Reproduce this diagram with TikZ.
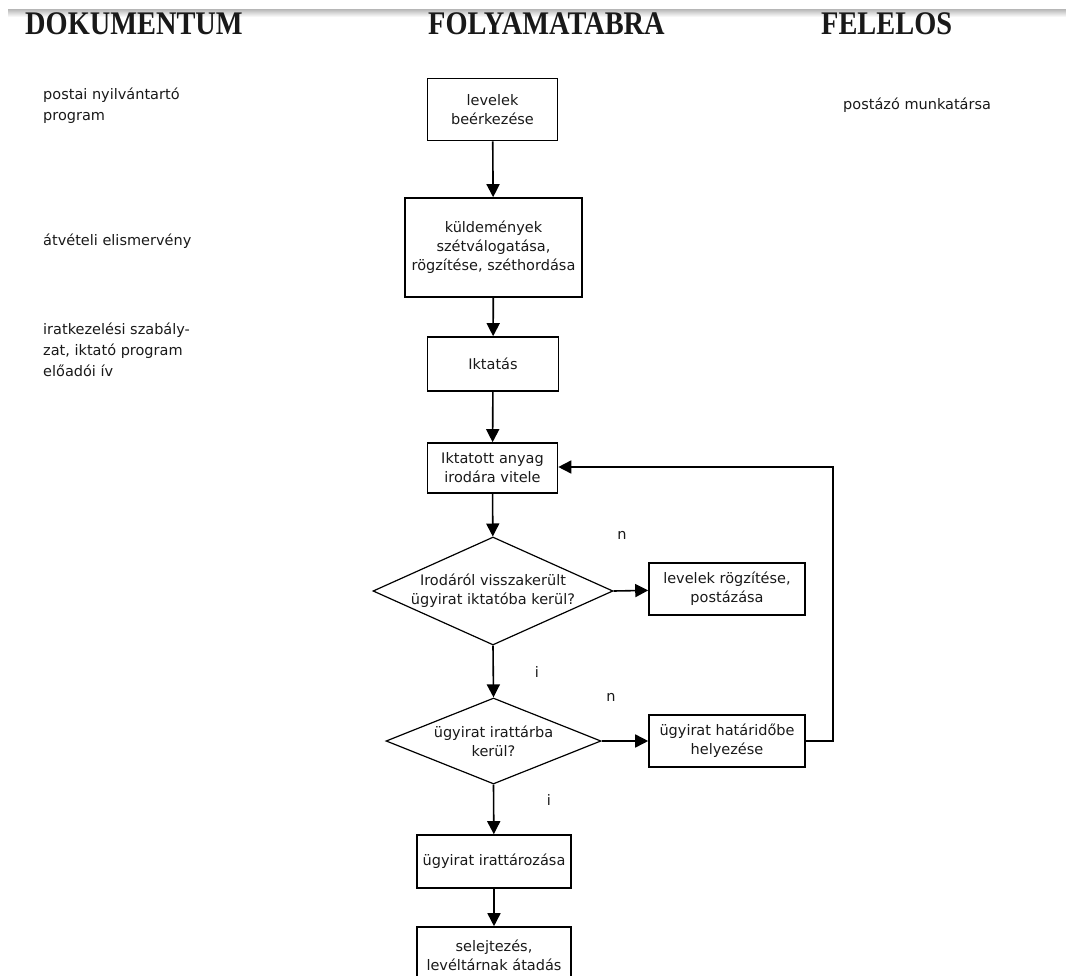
\documentclass[tikz,border=0pt]{standalone}
\usepackage{fontspec}
\setmainfont{DejaVu Sans}
\newfontfamily\headfont{Liberation Serif}
\usetikzlibrary{shapes.geometric,arrows.meta}

\begin{document}
\begin{tikzpicture}[x=1pt,y=-1pt,
  txt/.style={font=\fontsize{14.5}{19}\selectfont, text=black!90},
  box/.style={txt, draw=black, line width=1.6pt, inner sep=0pt, align=center},
  dia/.style={draw=black, diamond, line width=1.2pt, inner sep=0pt},
  flow/.style={-{Triangle[width=13pt,length=13pt]}, line width=1.6pt},
  side/.style={txt, anchor=west, align=left, inner sep=0pt, font=\fontsize{14.5}{21}\selectfont},
  head/.style={anchor=base west, inner sep=0pt, font=\headfont\bfseries\fontsize{33}{33}\selectfont, text=black!90},
  yn/.style={txt, inner sep=0pt}
]
\useasboundingbox (0,0) rectangle (1066,976);
\clip (0,0) rectangle (1066,976);

% top rule
\shade[top color=gray!50, bottom color=white] (8,10) rectangle (1066,17);

% column headers
\node[head] (hdoc) at (25,35) {\scalebox{0.86}[1]{DOKUMENTUM}};
\node[head] (hflow) at (428,35) {\scalebox{0.86}[1]{FOLYAMATABRA}};
\node[head] (hresp) at (821,35) {\scalebox{0.86}[1]{FELELOS}};

% document column
\node[side] (doc1) at (43,106) {postai nyilvántartó\\program};
\node[side] (doc2) at (43,241) {átvételi elismervény};
\node[side] (doc3) at (43,350) {iratkezelési szabály-\\zat, iktató program\\előadói ív};

% responsible column
\node[side] (resp1) at (843,105) {postázó munkatársa};

% flow chart
\node[box, minimum width=130, minimum height=62] (b1) at (492.5,109.5) {levelek\\beérkezése};
\node[box, minimum width=177, minimum height=99] (b2) at (493.5,247.5) {küldemények\\szétválogatása,\\rögzítése, széthordása};
\node[box, minimum width=131, minimum height=54] (b3) at (493,364) {Iktatás};
\node[box, minimum width=130, minimum height=50] (b4) at (492.5,468) {Iktatott anyag\\irodára vitele};
\node[dia, minimum width=240, minimum height=108] (d1) at (493,591) {};
\node[txt, align=center] (d1t) at (d1) {Irodáról visszakerült\\ügyirat iktatóba kerül?};
\node[box, minimum width=156, minimum height=52] (b5) at (727,589) {levelek rögzítése,\\postázása};
\node[dia, minimum width=215, minimum height=86] (d2) at (493.5,741) {};
\node[txt, align=center] (d2t) at (d2) {ügyirat irattárba\\kerül?};
\node[box, minimum width=156, minimum height=52] (b6) at (727,741) {ügyirat határidőbe\\helyezése};
\node[box, minimum width=154, minimum height=53] (b7) at (494,861.5) {ügyirat irattározása};
\node[box, minimum width=154, minimum height=56] (b8) at (494,955) {selejtezés,\\levéltárnak átadás};

% branch labels
\node[yn] (n1) at (622,535) {n};
\node[yn] (i1) at (537,672) {i};
\node[yn] (n2) at (611,697) {n};
\node[yn] (i2) at (549,800) {i};

% connectors
\draw[flow] (b1) -- (b2);
\draw[flow] (b2) -- (b3);
\draw[flow] (b3) -- (b4);
\draw[flow] (b4) -- (d1);
\draw[flow] (d1.east) -- (b5);
\draw[flow] (d1.south) -- (d2.north);
\draw[flow] (d2.east) -- (b6);
\draw[flow] (d2.south) -- (b7);
\draw[flow] (b7) -- (b8);
\coordinate (loop) at (833,467);
\draw[flow] (b6.east) -| (loop) -- (b4.east |- loop);
\end{tikzpicture}
\end{document}
